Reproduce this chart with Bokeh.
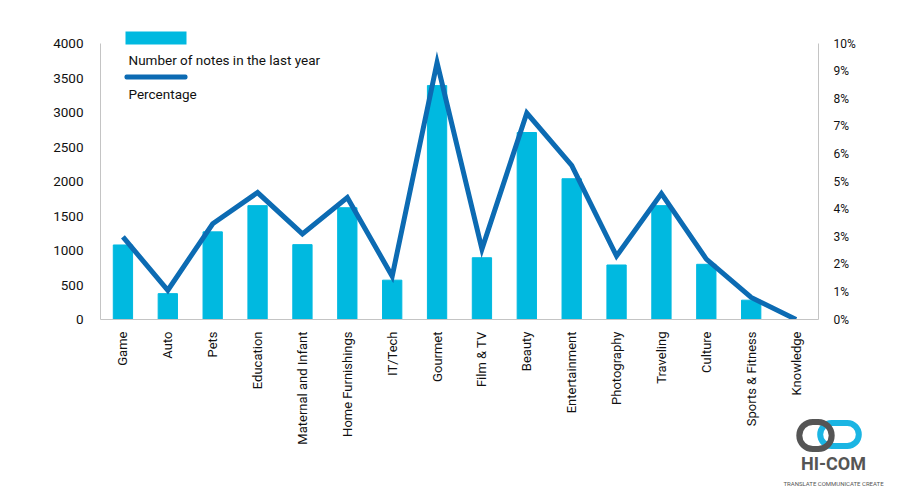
import math
from bokeh.plotting import figure
from bokeh.models import (Range1d, LinearAxis, FixedTicker, NumeralTickFormatter,
                          Label, BoxAnnotation, ColumnDataSource)
from bokeh.embed import file_html
from bokeh.resources import INLINE

categories = ["Game", "Auto", "Pets", "Education", "Maternal and Infant",
              "Home Furnishings", "IT/Tech", "Gourmet", "Film & TV", "Beauty",
              "Entertainment", "Photography", "Traveling", "Culture",
              "Sports & Fitness", "Knowledge"]
notes = [1080, 375, 1270, 1650, 1085, 1620, 570, 3390, 895, 2710,
         2040, 790, 1650, 800, 280, 0]
percentage = [0.0299, 0.0106, 0.0347, 0.046, 0.031, 0.0442, 0.0157, 0.0931,
              0.0255, 0.0748, 0.0558, 0.023, 0.0456, 0.0219, 0.008, 0.0]
left_ticks = [0, 500, 1000, 1500, 2000, 2500, 3000, 3500, 4000]
right_ticks = [0, 0.01, 0.02, 0.03, 0.04, 0.05, 0.06, 0.07, 0.08, 0.09, 0.10]

BAR = "#00B9E0"
LINE = "#0C6BB3"
AXIS = "#c4c4c4"
FONT = "Roboto"
GRAY = "#555555"

# frame: top 26, bottom 319 ; 0 -> 319, 4000 -> 43
Y_TOP = 4000 * (319 - 26) / (319 - 43)
P_TOP = 0.10 * (319 - 26) / (319 - 43)

src = ColumnDataSource(dict(cat=categories, notes=notes, pct=percentage))

p = figure(width=900, height=500, x_range=categories, y_range=Range1d(0, Y_TOP),
           output_backend="svg", toolbar_location=None,
           min_border_left=100, min_border_right=82, min_border_top=26,
           min_border_bottom=181)
p.outline_line_color = None
p.grid.grid_line_color = None
p.extra_y_ranges = {"pct": Range1d(0, P_TOP)}

p.vbar(x="cat", top="notes", width=0.43, color=BAR, source=src)
p.line(x="cat", y="pct", y_range_name="pct", line_color=LINE, line_width=5,
       line_join="miter", source=src)

# left axis
ya = p.yaxis[0]
ya.ticker = FixedTicker(ticks=left_ticks)
ya.bounds = (0, 4000)
ya.axis_line_color = AXIS
ya.major_tick_line_color = None
ya.minor_tick_line_color = None
ya.major_tick_out = 0
ya.major_label_standoff = 17
ya.major_label_text_font = FONT
ya.major_label_text_font_size = "13.5px"
ya.major_label_text_color = "#111111"

# right axis
ra = LinearAxis(y_range_name="pct", ticker=FixedTicker(ticks=right_ticks),
                formatter=NumeralTickFormatter(format="0%"), bounds=(0, 0.10))
ra.axis_line_color = AXIS
ra.major_tick_line_color = None
ra.minor_tick_line_color = None
ra.major_tick_out = 0
ra.major_label_standoff = 15
ra.major_label_text_font = FONT
ra.major_label_text_font_size = "12px"
ra.major_label_text_color = "#111111"
p.add_layout(ra, "right")

# bottom axis
xa = p.xaxis[0]
xa.axis_line_color = AXIS
xa.major_tick_line_color = None
xa.minor_tick_line_color = None
xa.major_tick_out = 0
xa.major_label_orientation = math.pi / 2
xa.major_label_standoff = 12
xa.major_label_text_font = FONT
xa.major_label_text_font_size = "13px"
xa.major_label_text_color = "#111111"

def canvas_box(l, r, t, b, **kw):
    return BoxAnnotation(left=l, right=r, top=t, bottom=b,
                         left_units="canvas", right_units="canvas",
                         top_units="canvas", bottom_units="canvas", **kw)

# legend (stacked: swatch above label)
p.add_layout(canvas_box(125, 186, 31, 44, fill_color=BAR, fill_alpha=1,
                        line_color=None))
p.add_layout(Label(x=128, y=59, x_units="canvas", y_units="canvas",
                   text="Number of notes in the last year", text_font=FONT,
                   text_font_size="13.5px", text_baseline="middle",
                   text_color="#111111"))
p.add_layout(canvas_box(124, 187, 74, 79, fill_color=LINE, fill_alpha=1,
                        line_color=None, border_radius=2))
p.add_layout(Label(x=128, y=93, x_units="canvas", y_units="canvas",
                   text="Percentage", text_font=FONT,
                   text_font_size="13.5px", text_baseline="middle",
                   text_color="#111111"))

# logo (placed in side panels so it is not clipped to the frame)
p.add_layout(Label(x=815, y=435, x_units="canvas", y_units="canvas",
                   text="\u2003\u2003", text_font=FONT, text_font_size="10px",
                   text_align="center", text_baseline="middle",
                   padding=(6, 8), border_line_color=GRAY,
                   border_line_width=6, border_radius=14,
                   background_fill_color=None), "left")
p.add_layout(Label(x=839, y=434, x_units="canvas", y_units="canvas",
                   text="\u2003\u2003\u2003", text_font=FONT,
                   text_font_size="10px", text_align="center",
                   text_baseline="middle", padding=(4, 6),
                   border_line_color="#1BB5E3", border_line_width=6,
                   border_radius=12, background_fill_color=None), "below")
p.add_layout(Label(x=833, y=463, x_units="canvas", y_units="canvas",
                   text="HI-COM", text_font=FONT, text_font_style="bold",
                   text_font_size="18px", text_align="center",
                   text_baseline="middle", text_color=GRAY), "below")
p.add_layout(Label(x=833, y=483, x_units="canvas", y_units="canvas",
                   text="TRANSLATE COMMUNICATE CREATE", text_font=FONT,
                   text_font_size="6px", text_align="center",
                   text_baseline="middle", text_color=GRAY), "below")

open("out.html", "w").write(file_html(p, INLINE))
